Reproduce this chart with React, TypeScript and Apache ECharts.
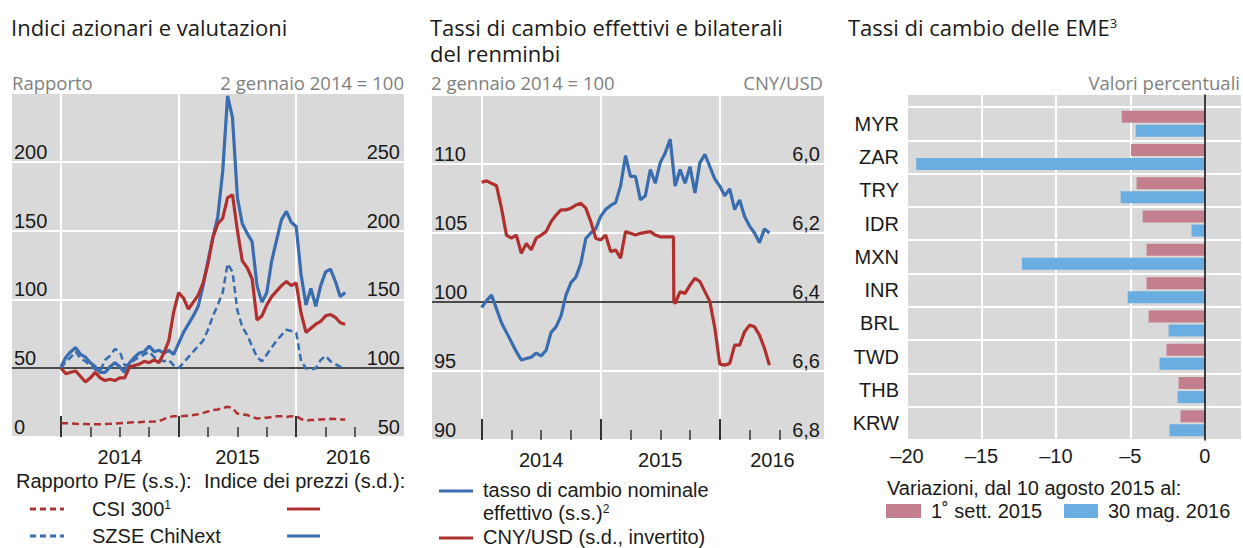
import React, { useEffect, useRef } from 'react';
import * as echarts from 'echarts';

const FONT_SANS = '"Liberation Sans", Arial, sans-serif';
const FONT_TITLE = '"Open Sans", "Noto Sans", sans-serif';

const RED = '#b03030';
const BLUE = '#3a6cb0';
const PINK = '#c47f8e';
const LIGHT_BLUE = '#6aade0';
const BG = '#d9d9d9';
const TEXT = '#1a1a1a';
const GREY_TEXT = '#7f7f7f';

// Dates: months since 2 January 2014, half-month observations up to end of May 2016
const obsMonths = Array.from({ length: 59 }, (_, k) => k / 2);

// Panel 1 – P/E ratios (left axis) and price indices (right axis, 2 Jan 2014 = 100)
const csi300PE = [
  10, 10, 9.8, 9.6, 9.5, 9.4, 9.3, 9.2, 9.3, 9.5,
  9.6, 9.8, 10, 10.2, 10.5, 10.7, 10.8, 11, 11, 11.2,
  11.5, 13, 14.5, 15, 15, 15.2, 15.5, 16, 16.5, 17.5,
  18.5, 19.5, 20, 21, 22, 21, 17, 16.5, 16, 14.5,
  13.5, 13.8, 14, 14.5, 15, 15, 14.5, 15, 15.2, 13,
  12, 12.3, 12.5, 12.8, 13, 13.2, 13, 12.8, 12.8,
];
const chinextPE = [
  50, 55, 58, 62, 57, 55, 52, 49, 48, 56,
  59, 64, 62, 52, 53, 56, 58, 60, 62, 58,
  57, 55, 56, 52, 50, 54, 58, 62, 66, 70,
  78, 88, 96, 105, 126, 120, 92, 80, 74, 66,
  58, 55, 60, 65, 70, 74, 78, 77, 76, 55,
  50, 49, 50, 56, 59, 55, 53, 51, 50,
];
const csi300Index = [
  100, 96, 97, 98, 94, 90, 93, 97, 93, 91,
  92, 91, 93, 93, 101, 102, 103, 105, 104, 106,
  104, 111, 120, 141, 155, 151, 143, 148, 153, 162,
  176, 195, 205, 209, 224, 226, 200, 178, 173, 165,
  135, 138, 146, 152, 156, 160, 163, 160, 162, 140,
  126, 129, 132, 134, 138, 139, 137, 133, 132,
];
const chinextIndex = [
  101, 108, 112, 115, 110, 108, 104, 101, 97, 97,
  101, 104, 101, 97, 104, 108, 111, 112, 116, 112,
  113, 111, 113, 110, 118, 126, 132, 138, 145, 160,
  178, 195, 210, 243, 298, 282, 224, 205, 198, 192,
  160, 148, 155, 178, 193, 208, 214, 206, 203, 168,
  146, 158, 145, 160, 170, 172, 163, 152, 155,
];

// Panel 2 – nominal effective exchange rate (left) and CNY/USD (right, inverted)
const neer = [
  99.6, 100.1, 100.5, 99.5, 98.5, 97.8, 97.1, 96.4, 95.8, 95.9,
  96.0, 96.3, 96.1, 96.5, 97.8, 98.2, 99.0, 100.5, 101.4, 101.8,
  102.8, 104.6, 105.0, 105.3, 106.2, 106.7, 107.0, 107.2, 108.4, 110.6,
  109.1, 109.1, 107.4, 107.7, 109.6, 108.6, 110.1, 110.8, 111.8, 108.4,
  109.6, 108.6, 109.8, 107.9, 110.1, 110.7, 109.8, 108.9, 108.4, 107.7,
  108.2, 106.7, 107.4, 106.2, 105.5, 105.0, 104.3, 105.3, 105.0,
];
const cnyUsd = [
  6.053, 6.049, 6.056, 6.063, 6.128, 6.206, 6.215, 6.206, 6.259, 6.23,
  6.249, 6.215, 6.206, 6.196, 6.167, 6.148, 6.133, 6.133, 6.128, 6.119,
  6.114, 6.128, 6.167, 6.215, 6.22, 6.206, 6.254, 6.249, 6.273, 6.196,
  6.201, 6.206, 6.201, 6.198, 6.196, 6.206, 6.211, 6.211, 6.211, 6.404,
  6.37, 6.375, 6.351, 6.331, 6.341, 6.37, 6.399, 6.476, 6.58, 6.583,
  6.578, 6.525, 6.525, 6.486, 6.467, 6.472, 6.496, 6.534, 6.583,
];
// 11 August 2015 devaluation (month, CNY/USD)
const cnyDevaluation: [number, number][] = [[19.33, 6.211], [19.37, 6.4]];

// Time axis decorations (months since Jan 2014)
const yearStarts = [0, 12, 24];
const quarterTicks = [3, 6, 9, 15, 18, 21, 27, 30];
const yearLabels = ['2014', '2015', '2016'];
const yearLabelPos = [6, 18, 29.3];

// Panel 3 – EME exchange rates, % change since 10 Aug 2015
const currencies = ['MYR', 'ZAR', 'TRY', 'IDR', 'MXN', 'INR', 'BRL', 'TWD', 'THB', 'KRW'];
const changeToSep2015 = [-5.58, -4.96, -4.58, -4.17, -3.91, -3.91, -3.77, -2.57, -1.76, -1.63];
const changeToMay2016 = [-4.64, -19.38, -5.65, -0.89, -12.28, -5.18, -2.43, -3.04, -1.83, -2.37];

function txt(x: number, y: number, text: string, o: any = {}) {
  const align = o.align || 'left';
  const style: any = {
    text,
    fill: o.color || TEXT,
    fontSize: o.size || 20,
    fontFamily: o.family || FONT_SANS,
    textAlign: align,
    align,
    textVerticalAlign: o.valign || 'middle',
    verticalAlign: o.valign || 'middle',
  };
  if (o.rich) style.rich = o.rich;
  if (o.lineHeight) style.lineHeight = o.lineHeight;
  return { type: 'text', x, y, silent: true, z: 10, style };
}

function legLine(x1: number, x2: number, y: number, color: string, dash?: number[]) {
  return {
    type: 'line',
    silent: true,
    z: 10,
    shape: { x1, y1: y, x2, y2: y },
    style: { stroke: color, lineWidth: 3, lineDash: dash || null },
  };
}

function timeMarks(yBase: number, majorLen: number, minorLen: number, refLine: number) {
  const data: any[] = [];
  yearStarts.forEach((m) => data.push({ xAxis: m, lineStyle: { color: '#ffffff', width: 2, type: 'solid' } }));
  data.push({ yAxis: refLine, lineStyle: { color: '#4a4a4a', width: 2, type: 'solid' } });
  yearStarts.forEach((m) =>
    data.push([
      { coord: [m, yBase], lineStyle: { color: '#333333', width: 2, type: 'solid' } },
      { coord: [m, yBase + majorLen] },
    ])
  );
  quarterTicks.forEach((m) =>
    data.push([
      { coord: [m, yBase], lineStyle: { color: '#333333', width: 1.5, type: 'solid' } },
      { coord: [m, yBase + minorLen] },
    ])
  );
  return {
    silent: true,
    z: 1,
    symbol: ['none', 'none'],
    label: { show: false },
    lineStyle: { type: 'solid' },
    animation: false,
    data,
  };
}

export default function App() {
  const ref = useRef<HTMLDivElement>(null);

  useEffect(() => {
    if (!ref.current) return;
    const chart = echarts.init(ref.current, null, { renderer: 'svg' });

    const axisLabelBase = { fontSize: 20, fontFamily: FONT_SANS, color: TEXT };
    const whiteSplit = { show: true, lineStyle: { color: '#ffffff', width: 2 } };

    const pairs = (vals: number[]) => obsMonths.map((m, i) => [m, vals[i]]);
    const cnyData = [...pairs(cnyUsd), ...cnyDevaluation].sort((a, b) => a[0] - b[0]);

    const option: any = {
      animation: false,
      grid: [
        { left: 12, top: 93, width: 392, height: 344, show: true, backgroundColor: BG, borderWidth: 0 },
        { left: 432, top: 95, width: 392, height: 345, show: true, backgroundColor: BG, borderWidth: 0 },
        { left: 907, top: 95, width: 335, height: 345, show: true, backgroundColor: BG, borderWidth: 0 },
        { left: 907, top: 107, width: 335, height: 333, show: false },
      ],
      xAxis: [
        { gridIndex: 0, type: 'value', min: -5, max: 35, show: false },
        { gridIndex: 1, type: 'value', min: -5, max: 34.5, show: false },
        {
          gridIndex: 2, type: 'value', min: -20, max: 2.5, interval: 5,
          axisLine: { show: false }, axisTick: { show: false }, axisLabel: { show: false },
          splitLine: whiteSplit,
        },
        {
          gridIndex: 3, type: 'value', min: -20, max: 2.5, interval: 5,
          axisLine: { show: false }, axisTick: { show: false }, splitLine: { show: false },
          axisLabel: {
            ...axisLabelBase, margin: 6, showMaxLabel: false,
            formatter: (v: number) => (v < 0 ? '\u2013' + Math.abs(v) : String(v)),
          },
        },
      ],
      yAxis: [
        {
          gridIndex: 0, type: 'value', position: 'left', min: 0, max: 250, interval: 50,
          axisLine: { show: false }, axisTick: { show: false }, splitLine: whiteSplit,
          axisLabel: { ...axisLabelBase, inside: true, margin: 2, verticalAlign: 'bottom', showMaxLabel: false },
        },
        {
          gridIndex: 0, type: 'value', position: 'right', min: 50, max: 300, interval: 50,
          axisLine: { show: false }, axisTick: { show: false }, splitLine: { show: false },
          axisLabel: { ...axisLabelBase, inside: true, margin: 4, verticalAlign: 'bottom', showMaxLabel: false },
        },
        {
          gridIndex: 1, type: 'value', position: 'left', min: 90, max: 115, interval: 5,
          axisLine: { show: false }, axisTick: { show: false }, splitLine: whiteSplit,
          axisLabel: { ...axisLabelBase, inside: true, margin: 2, verticalAlign: 'bottom', showMaxLabel: false },
        },
        {
          gridIndex: 1, type: 'value', position: 'right', inverse: true, min: 5.8, max: 6.8, interval: 0.2,
          axisLine: { show: false }, axisTick: { show: false }, splitLine: { show: false },
          axisLabel: {
            ...axisLabelBase, inside: true, margin: 4, verticalAlign: 'bottom', showMinLabel: false,
            formatter: (v: number) => (v < 5.95 ? '' : v.toFixed(1).replace('.', ',')),
          },
        },
        {
          gridIndex: 2, type: 'value', min: 0, max: 1, z: 5,
          axisLine: { show: true, onZero: true, lineStyle: { color: '#000000', width: 1.5 } },
          axisTick: { show: false }, axisLabel: { show: false }, splitLine: { show: false },
        },
        {
          gridIndex: 3, type: 'category', inverse: true, data: currencies,
          axisLine: { show: false }, axisTick: { show: false },
          splitLine: { show: true, interval: 0, lineStyle: { color: '#ffffff', width: 2 } },
          axisLabel: { ...axisLabelBase, margin: 8, interval: 0 },
        },
      ],
      series: [
        {
          name: 'SZSE ChiNext P/E', type: 'line', xAxisIndex: 0, yAxisIndex: 0,
          data: pairs(chinextPE), showSymbol: false, z: 2,
          lineStyle: { color: BLUE, width: 2.5, type: [7, 4] },
          markLine: timeMarks(0, 15.2, 7.2, 50),
        },
        {
          name: 'CSI 300 P/E', type: 'line', xAxisIndex: 0, yAxisIndex: 0,
          data: pairs(csi300PE), showSymbol: false, z: 2,
          lineStyle: { color: RED, width: 2.5, type: [7, 4] },
        },
        {
          name: 'SZSE ChiNext', type: 'line', xAxisIndex: 0, yAxisIndex: 1,
          data: pairs(chinextIndex), showSymbol: false, z: 2,
          lineStyle: { color: BLUE, width: 3.2 },
        },
        {
          name: 'CSI 300', type: 'line', xAxisIndex: 0, yAxisIndex: 1,
          data: pairs(csi300Index), showSymbol: false, z: 2,
          lineStyle: { color: RED, width: 3.2 },
        },
        {
          name: 'NEER', type: 'line', xAxisIndex: 1, yAxisIndex: 2,
          data: pairs(neer), showSymbol: false, z: 2,
          lineStyle: { color: BLUE, width: 3.2 },
          markLine: timeMarks(90, 1.52, 0.72, 100),
        },
        {
          name: 'CNY/USD', type: 'line', xAxisIndex: 1, yAxisIndex: 3,
          data: cnyData, showSymbol: false, z: 2,
          lineStyle: { color: RED, width: 3.2 },
        },
        {
          name: '1\u02da sett. 2015', type: 'bar', xAxisIndex: 3, yAxisIndex: 5,
          data: changeToSep2015, barWidth: 12, barGap: '17%', itemStyle: { color: PINK },
        },
        {
          name: '30 mag. 2016', type: 'bar', xAxisIndex: 3, yAxisIndex: 5,
          data: changeToMay2016, barWidth: 12, barGap: '17%', itemStyle: { color: LIGHT_BLUE },
        },
      ],
    };

    chart.setOption(option);

    const sup = { fontSize: 12, fontFamily: FONT_SANS, verticalAlign: 'top', lineHeight: 12 };
    const graphics: any[] = [
      // titles
      txt(11, 27, 'Indici azionari e valutazioni', { size: 22, family: FONT_TITLE }),
      txt(430, 14, 'Tassi di cambio effettivi e bilaterali\ndel renminbi', {
        size: 22, family: FONT_TITLE, valign: 'top', lineHeight: 26,
      }),
      txt(848, 27, '{t|Tassi di cambio delle EME}{s|3}', {
        size: 22, family: FONT_TITLE,
        rich: {
          t: { fontSize: 22, fontFamily: FONT_TITLE, fill: TEXT, color: TEXT },
          s: { fontSize: 13, fontFamily: FONT_TITLE, fill: TEXT, color: TEXT, verticalAlign: 'top', lineHeight: 13 },
        },
      }),
      // units
      txt(12, 82, 'Rapporto', { size: 18.5, family: FONT_TITLE, color: GREY_TEXT }),
      txt(404, 82, '2 gennaio 2014 = 100', { size: 18.5, family: FONT_TITLE, color: GREY_TEXT, align: 'right' }),
      txt(431, 82, '2 gennaio 2014 = 100', { size: 18.5, family: FONT_TITLE, color: GREY_TEXT }),
      txt(823, 82, 'CNY/USD', { size: 18.5, family: FONT_TITLE, color: GREY_TEXT, align: 'right' }),
      txt(1240, 82, 'Valori percentuali', { size: 18.5, family: FONT_TITLE, color: GREY_TEXT, align: 'right' }),
      // legend panel 1
      txt(16, 481, 'Rapporto P/E (s.s.):'),
      txt(204, 481, 'Indice dei prezzi (s.d.):'),
      legLine(30, 64, 509, RED, [6, 4]),
      txt(92, 509, '{a|CSI 300}{s|1}', {
        rich: { a: { fontSize: 20, fontFamily: FONT_SANS, fill: TEXT, color: TEXT }, s: { ...sup, fill: TEXT, color: TEXT } },
      }),
      legLine(287, 320, 509, RED),
      legLine(30, 64, 536, BLUE, [6, 4]),
      txt(92, 536, 'SZSE ChiNext'),
      legLine(287, 320, 536, BLUE),
      // legend panel 2
      legLine(439, 473, 491, BLUE),
      txt(483, 490, 'tasso di cambio nominale'),
      txt(483, 513, '{a|effettivo (s.s.)}{s|2}', {
        rich: { a: { fontSize: 20, fontFamily: FONT_SANS, fill: TEXT, color: TEXT }, s: { ...sup, fill: TEXT, color: TEXT } },
      }),
      legLine(439, 473, 538, RED),
      txt(483, 537, 'CNY/USD (s.d., invertito)', { lineHeight: 18 }),
      // legend panel 3
      txt(887, 488, 'Variazioni, dal 10 agosto 2015 al:'),
      { type: 'rect', silent: true, z: 10, shape: { x: 886, y: 504, width: 35, height: 14 }, style: { fill: PINK } },
      txt(931, 511, '1\u02da sett. 2015'),
      { type: 'rect', silent: true, z: 10, shape: { x: 1064, y: 504, width: 34, height: 14 }, style: { fill: LIGHT_BLUE } },
      txt(1108, 511, '30 mag. 2016'),
    ];

    // year labels, positioned through the time axes' scales
    [0, 1].forEach((gi) => {
      yearLabelPos.forEach((m, i) => {
        const p = chart.convertToPixel({ gridIndex: gi } as any, [m, gi === 0 ? 0 : 90]) as number[];
        if (p) graphics.push(txt(p[0], p[1] + 20, yearLabels[i], { align: 'center' }));
      });
    });

    chart.setOption({ graphic: graphics });

    return () => chart.dispose();
  }, []);

  return (
    <div
      ref={ref}
      style={{ position: 'absolute', left: 0, top: 0, width: 1243, height: 548, background: '#ffffff' }}
    />
  );
}
